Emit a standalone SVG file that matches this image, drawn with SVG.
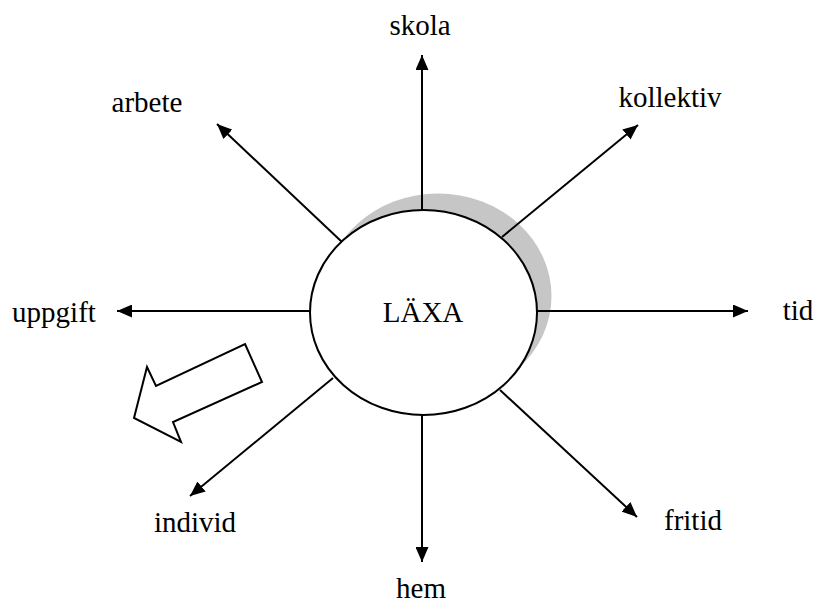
<svg xmlns="http://www.w3.org/2000/svg" width="816" height="604" viewBox="0 0 816 604">
<style>
text{font-family:"Liberation Serif","Times New Roman",serif;font-size:29px;fill:#000;text-anchor:middle}
.c line{stroke:#000;stroke-width:2;marker-end:url(#ah)}
</style>
<defs>
<marker id="ah" viewBox="0 0 15 13" refX="15" refY="6.5" markerWidth="15" markerHeight="13" markerUnits="userSpaceOnUse" orient="auto">
<path d="M0,0 L15,6.5 L0,13 z" fill="#000"/>
</marker>
</defs>
<rect width="816" height="604" fill="#fff"/>
<g id="shadow">
<ellipse cx="438" cy="296" rx="113.5" ry="102.5" fill="#c6c6c6"/>
</g>
<g class="c" id="connectors">
<line x1="422" y1="210" x2="422" y2="55"/>
<line x1="342" y1="242" x2="217" y2="124"/>
<line x1="502" y1="237" x2="638" y2="125"/>
<line x1="310" y1="311" x2="117" y2="311"/>
<line x1="537" y1="311" x2="748" y2="311"/>
<line x1="333" y1="378" x2="190" y2="496"/>
<line x1="500" y1="390" x2="637" y2="517"/>
<line x1="422" y1="415" x2="422" y2="562"/>
</g>
<g id="laxa">
<ellipse cx="423.5" cy="312.5" rx="113.5" ry="102.5" fill="#fff" stroke="#000" stroke-width="2"/>
<text x="423" y="322">LÄXA</text>
</g>
<g id="skola"><text x="420" y="35">skola</text></g>
<g id="arbete"><text x="147" y="112">arbete</text></g>
<g id="kollektiv"><text x="670" y="107">kollektiv</text></g>
<g id="uppgift"><text x="54" y="322">uppgift</text></g>
<g id="tid"><text x="798" y="320">tid</text></g>
<g id="individ"><text x="195" y="532">individ</text></g>
<g id="fritid"><text x="693" y="530">fritid</text></g>
<g id="hem"><text x="421" y="598">hem</text></g>
<g id="hollow-arrow">
<polygon points="245,344 262,382 173,422 181,442 134,418 147,367 156,386" fill="#fff" stroke="#000" stroke-width="2" stroke-linejoin="miter"/>
</g>
</svg>
